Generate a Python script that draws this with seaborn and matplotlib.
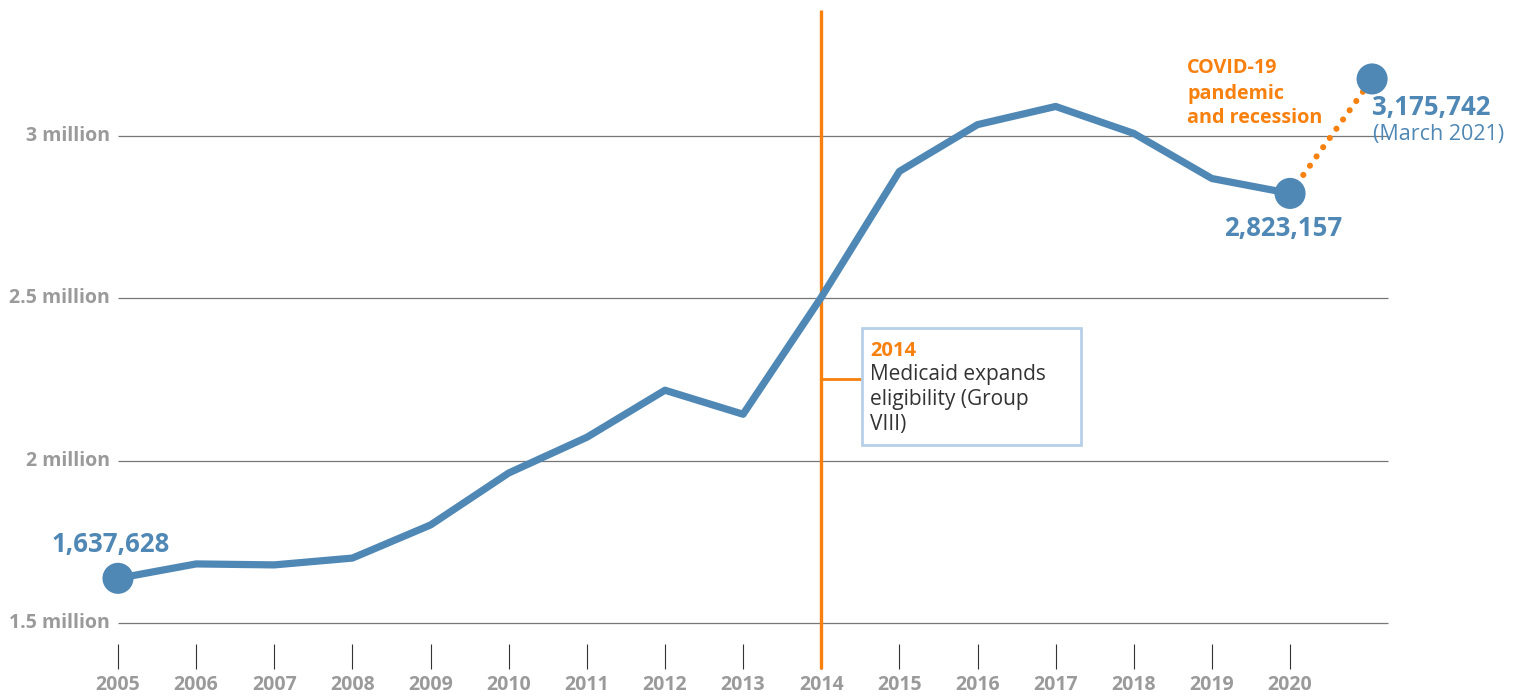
import matplotlib
matplotlib.use("Agg")
import matplotlib.pyplot as plt
import seaborn as sns
import pandas as pd
from matplotlib.patches import Rectangle

# Medicaid enrollment by year (millions)
years = [2005, 2006, 2007, 2008, 2009, 2010, 2011, 2012, 2013, 2014,
         2015, 2016, 2017, 2018, 2019, 2020]
enrollment = [1.637628, 1.682, 1.679, 1.700, 1.802, 1.962, 2.072, 2.217,
              2.143, 2.503, 2.891, 3.035, 3.091, 3.008, 2.869, 2.823157]
march_2021_x = 2021.05
march_2021_value = 3.175742

y_ticks = [1.5, 2.0, 2.5, 3.0]
y_tick_labels = ["1.5 million", "2 million", "2.5 million", "3 million"]
year_labels = [str(y) for y in years]

start_label = "1,637,628"
end_label = "2,823,157"
latest_label = "3,175,742"
latest_note = "(March 2021)"
covid_lines = ["COVID-19", "pandemic", "and recession"]
expansion_year = 2014
expansion_title = "2014"
expansion_lines = ["Medicaid expands", "eligibility (Group", "VIII)"]

BLUE = "#4f87b5"
ORANGE = "#f7800f"
GRAY = "#9a9a9a"
GRID = "#777777"
BOX = "#b7cfe8"
DARK = "#333333"

sns.set_style("white")
plt.rcParams["font.family"] = ["Open Sans", "DejaVu Sans"]

XLIM = (2003.49, 2022.93)
YLIM = (1.2752, 3.4189)

fig = plt.figure(figsize=(15.19, 6.96), dpi=100)
ax = fig.add_axes([0, 0, 1, 1])

# horizontal gridlines with labels on the left
for v, lab in zip(y_ticks, y_tick_labels):
    ax.hlines(v, 2005, 2021.255, color=GRID, lw=0.9, zorder=1)
    ax.text(2004.898, v, lab, ha="right", va="center", color=GRAY,
            fontsize=14, fontweight="bold")

# year ticks and labels below the chart
for y, lab in zip(years, year_labels):
    ax.vlines(y, 1.3583, 1.4353, color=DARK, lw=0.8, zorder=1)
    ax.text(y, 1.309, lab, ha="center", va="center", color=GRAY,
            fontsize=14, fontweight="bold")

# 2014 expansion marker and callout box
ax.vlines(expansion_year, 1.3583, 3.388, color=ORANGE, lw=2.4, zorder=2)
ax.hlines(2.2516, expansion_year, 2014.523, color=ORANGE, lw=2.0, zorder=2)
ax.add_patch(Rectangle((2014.523, 2.0483), 2.803, 0.3603, fill=False,
                       edgecolor=BOX, lw=2.0, zorder=3))
ax.text(2014.625, 2.3378, expansion_title, ha="left", va="center",
        color=ORANGE, fontsize=14.5, fontweight="bold")
for yy, line in zip([2.2639, 2.1869, 2.1099], expansion_lines):
    ax.text(2014.625, yy, line, ha="left", va="center",
            color=DARK, fontsize=15)

# enrollment line
df = pd.DataFrame({"year": years, "enrollment": enrollment})
sns.lineplot(data=df, x="year", y="enrollment", color=BLUE, lw=5.2,
             ax=ax, zorder=4)

# pandemic jump, dotted
ax.plot([years[-1], march_2021_x], [enrollment[-1], march_2021_value],
        color=ORANGE, lw=4.4, linestyle=(0, (0.01, 1.85)),
        dash_capstyle="round", zorder=3)

# endpoint markers
pts = pd.DataFrame({"x": [years[0], years[-1], march_2021_x],
                    "y": [enrollment[0], enrollment[-1], march_2021_value]})
sns.scatterplot(data=pts, x="x", y="y", color=BLUE, s=500,
                edgecolor="none", ax=ax, zorder=5)

ax.text(2004.91, 1.7403, start_label, ha="center", va="center",
        color=BLUE, fontsize=18.5, fontweight="bold")
ax.text(2019.912, 2.7136, end_label, ha="center", va="center",
        color=BLUE, fontsize=18.5, fontweight="bold")
ax.text(2021.05, 3.0893, latest_label, ha="left", va="center",
        color=BLUE, fontsize=18.5, fontweight="bold")
ax.text(2021.063, 3.0031, latest_note, ha="left", va="center",
        color=BLUE, fontsize=15.5)
for yy, line in zip([3.2095, 3.1294, 3.0554], covid_lines):
    ax.text(2018.683, yy, line, ha="left", va="center",
            color=ORANGE, fontsize=14.2, fontweight="bold")

ax.set_xlim(*XLIM)
ax.set_ylim(*YLIM)
ax.axis("off")

fig.savefig("out.png", dpi=100, facecolor="white")
